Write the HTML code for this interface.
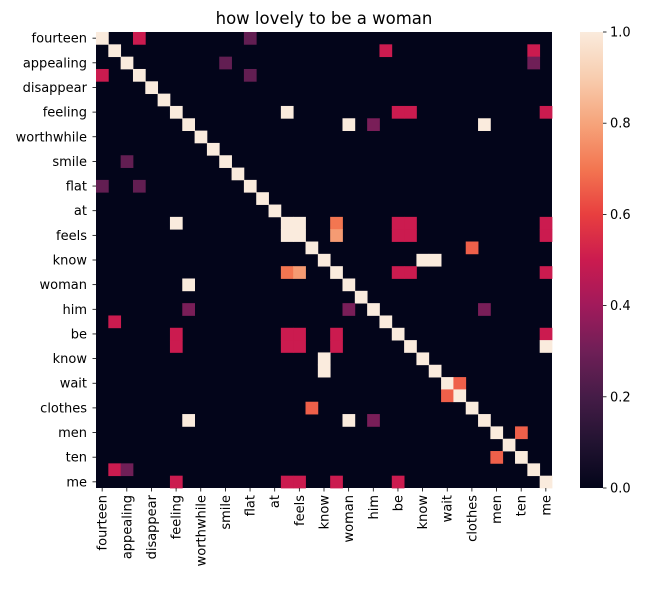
<!DOCTYPE html>
<html><head><meta charset="utf-8"><style>
body{margin:0;background:#fff;}
svg text{font-family:"DejaVu Sans","Liberation Sans",sans-serif;fill:#000;}
</style></head><body>
<svg id="chart" width="645" height="584" xmlns="http://www.w3.org/2000/svg">
<defs>
<linearGradient id="cbgrad" x1="0" y1="1" x2="0" y2="0"></linearGradient>
</defs>
<text x="324" y="24" font-size="16.5" text-anchor="middle">how lovely to be a woman</text>
<g id="cells"></g>
<g id="ylabels"></g>
<g id="xlabels"></g>
<rect x="580" y="32" width="23" height="456" fill="url(#cbgrad)"/>
<g id="cbticks"></g>
</svg>
<script>
const labels = ["fourteen","appealing","disappear","feeling","worthwhile","smile","flat","at","feels","know","woman","him","be","know","wait","clothes","men","ten","me"];
const nCells = 37;
const offRows = [0,0,3,1,1,2,2,3,12,10,
  6,6,6,6,15,15,15,15,15,15,16,16,16,16,16,
  7,7,7,17,18,18,26,26,27,27,
  19,19,19,19,19,20,22,22,24,24,24,24,25,25,25,25,
  22,23,24,25,31,31,31,30,35,35,36,36,36,36,36,
  28,29,32,34,12];
const offCols = [3,12,0,23,35,10,35,12,0,2,
  15,24,25,36,6,16,19,24,25,36,15,19,24,25,36,
  20,22,31,30,26,27,18,18,18,18,
  15,16,24,25,36,7,7,20,6,15,16,19,6,15,16,19,
  31,1,36,36,7,20,22,17,1,2,6,15,16,19,24,
  29,28,34,32,3];
const offVals = [0.5,0.27,0.5,0.5,0.5,0.27,0.3,0.27,0.27,0.27,
  1,0.5,0.5,0.5,1,1,0.7,0.5,0.5,0.5,1,0.78,0.5,0.5,0.5,
  1,0.32,1,0.66,1,1,1,1,1,1,
  0.7,0.78,0.5,0.5,0.5,1,0.32,0.32,0.5,0.5,0.5,0.5,0.5,0.5,0.5,0.5,
  0.32,0.5,0.5,1,1,1,0.32,0.66,0.5,0.3,0.5,0.5,0.5,0.5,0.5,
  0.66,0.66,0.66,0.66,0.27];
const diagVals = Array(37).fill(1);
const cbTicks = [0,0.2,0.4,0.6,0.8,1.0];

const x0=96,y0=32,W=456,H=456;
const cw=W/nCells,ch=H/nCells;
const xs=c=>x0+c*cw, ys=r=>y0+r*ch;
const stops=[[0,"#03051a"],[0.1,"#221331"],[0.2,"#451c47"],[0.3,"#6f1f57"],[0.4,"#a11a5b"],[0.5,"#cb1b4f"],[0.6,"#e83f3f"],[0.7,"#f37651"],[0.8,"#f6a47b"],[0.9,"#f8cdaf"],[1,"#faebdd"]];
function hex(h){return [1,3,5].map(i=>parseInt(h.substr(i,2),16));}
function cmap(v){v=Math.max(0,Math.min(1,v));for(let i=0;i<stops.length-1;i++){const[a,ca]=stops[i],[b,cb]=stops[i+1];if(v<=b){const t=(v-a)/(b-a),A=hex(ca),B=hex(cb);return "rgb("+A.map((x,k)=>Math.round(x+(B[k]-x)*t)).join(",")+")";}}return stops[stops.length-1][1];}
const NS="http://www.w3.org/2000/svg";
function mk(t,a,p){const e=document.createElementNS(NS,t);for(const k in a)e.setAttribute(k,a[k]);p.appendChild(e);return e;}
const grad=document.getElementById('cbgrad');
stops.forEach(s=>mk('stop',{offset:s[0],'stop-color':s[1]},grad));
const M=[];for(let r=0;r<nCells;r++){M.push(Array(nCells).fill(0));}
for(let i=0;i<nCells;i++)M[i][i]=diagVals[i];
for(let i=0;i<offRows.length;i++)M[offRows[i]][offCols[i]]=offVals[i];
const g=document.getElementById('cells');
mk('rect',{x:x0,y:y0,width:W,height:H,fill:cmap(0)},g);
for(let r=0;r<nCells;r++)for(let c=0;c<nCells;c++){if(M[r][c]>0){
const e=mk('rect',{x:xs(c),y:ys(r),width:cw+0.4,height:ch+0.4,fill:cmap(M[r][c])},g);

}}
const yl=document.getElementById('ylabels'),xl=document.getElementById('xlabels');
labels.forEach((l,i)=>{const idx=i*2;const cy=ys(idx)+ch/2,cx=xs(idx)+cw/2;
mk('line',{x1:x0-3.5,x2:x0,y1:cy,y2:cy,stroke:'#000','stroke-width':0.8},yl);
const t=mk('text',{x:x0-9,y:cy+4.5,'font-size':13,'text-anchor':'end'},yl);t.textContent=l;


mk('line',{x1:cx,x2:cx,y1:y0+H,y2:y0+H+3.5,stroke:'#000','stroke-width':0.8},xl);
const u=mk('text',{x:0,y:0,'font-size':13,'text-anchor':'end',transform:`translate(${cx+4.5},${y0+H+7}) rotate(-90)`},xl);u.textContent=l;


});
const cb=document.getElementById('cbticks');
cbTicks.forEach(v=>{const y=488-v*456;
mk('line',{x1:603,x2:606.5,y1:y,y2:y,stroke:'#000','stroke-width':0.8},cb);
const t=mk('text',{x:610,y:y+4.5,'font-size':13},cb);t.textContent=v.toFixed(1);

});
</script>
</body></html>
